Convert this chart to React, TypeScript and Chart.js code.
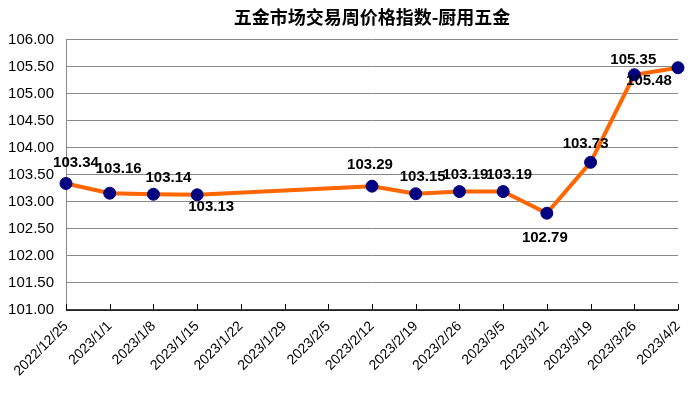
import React, { useEffect, useRef } from "react";
import { Chart, registerables } from "chart.js";

Chart.register(...registerables);

const TITLE = "五金市场交易周价格指数-厨用五金";
const categories = [
  "2022/12/25", "2023/1/1", "2023/1/8", "2023/1/15", "2023/1/22", "2023/1/29", "2023/2/5",
  "2023/2/12", "2023/2/19", "2023/2/26", "2023/3/5", "2023/3/12", "2023/3/19", "2023/3/26", "2023/4/2",
];
const values: (number | null)[] = [
  103.34, 103.16, 103.14, 103.13, null, null, null,
  103.29, 103.15, 103.19, 103.19, 102.79, 103.73, 105.35, 105.48,
];
const yTicks = [101, 101.5, 102, 102.5, 103, 103.5, 104, 104.5, 105, 105.5, 106];

// label offsets (style only)
const labelDx = [10, 9, 15, 14, 0, 0, 0, -2, 7, 6, 6, -2, -5, -1, -29];
const labelDy = [-21, -24, -16, 12, 0, 0, 0, -21, -17, -17, -17, 25, -19, -15, 13];

const FONT = "'Liberation Sans', Arial, sans-serif";

const labelPlugin = {
  id: "pointLabels",
  afterDatasetsDraw(chart: any) {
    const ctx = chart.ctx;
    const meta = chart.getDatasetMeta(0);
    ctx.save();
    ctx.font = `bold 15px ${FONT}`;
    ctx.fillStyle = "#000";
    ctx.textAlign = "center";
    ctx.textBaseline = "middle";
    meta.data.forEach((el: any, i: number) => {
      const v = values[i];
      if (v == null) return;
      ctx.fillText(v.toFixed(2), el.x + labelDx[i], el.y + labelDy[i]);
    });
    ctx.restore();
  },
};

const tickMarkPlugin = {
  id: "innerTicks",
  afterDraw(chart: any) {
    const ctx = chart.ctx;
    const xs = chart.scales.x;
    const bottom = chart.chartArea.bottom;
    ctx.save();
    ctx.strokeStyle = "#000";
    ctx.lineWidth = 1;
    xs.ticks.forEach((_t: any, i: number) => {
      const x = Math.round(xs.getPixelForTick(i)) + 0.5;
      ctx.beginPath();
      ctx.moveTo(x, bottom);
      ctx.lineTo(x, bottom - 6);
      ctx.stroke();
    });
    ctx.beginPath();
    ctx.lineWidth = 1.5;
    ctx.moveTo(chart.chartArea.left, bottom);
    ctx.lineTo(chart.chartArea.right, bottom);
    ctx.stroke();
    ctx.restore();
  },
};

export default function App() {
  const ref = useRef<HTMLCanvasElement>(null);
  useEffect(() => {
    if (!ref.current) return;
    const chart = new Chart(ref.current, {
      type: "line",
      data: {
        labels: categories,
        datasets: [
          {
            data: values,
            borderColor: "#FF6600",
            borderWidth: 4,
            pointBackgroundColor: "#000080",
            pointBorderColor: "#000080",
            pointRadius: 6,
            pointBorderWidth: 1,
            spanGaps: true,
            tension: 0,
          },
        ],
      },
      options: {
        animation: false,
        responsive: false,
        layout: { padding: { left: 0, right: 12, top: 0, bottom: 0 } },
        plugins: {
          legend: { display: false },
          tooltip: { enabled: false },
          title: {
            display: true,
            text: TITLE,
            fullSize: false,
            color: "#000",
            font: { size: 18, weight: "bold", family: "'Noto Sans CJK SC', sans-serif" },
            padding: { top: 6, bottom: 12 },
          },
        },
        scales: {
          x: {
            offset: false,
            grid: { display: false, drawTicks: false },
            border: { display: false },
            ticks: {
              color: "#000",
              font: { size: 14, family: FONT },
              minRotation: 45,
              maxRotation: 45,
              autoSkip: false,
              padding: 8,
            },
            afterFit: (s: any) => {
              s.height = 85;
              s.paddingRight = 0;
              s.paddingLeft = 0;
            },
          },
          y: {
            min: 101,
            max: 106,
            afterBuildTicks: (s: any) => {
              s.ticks = yTicks.map((v) => ({ value: v }));
            },
            grid: { color: "#888", lineWidth: 1, drawTicks: false },
            border: { color: "#888" },
            ticks: {
              color: "#000",
              font: { size: 15, family: FONT },
              padding: 12,
              callback: (v: any) => Number(v).toFixed(2),
            },
            afterFit: (s: any) => {
              s.width = 66;
            },
          },
        },
      },
      plugins: [labelPlugin, tickMarkPlugin],
    });
    return () => chart.destroy();
  }, []);
  return (
    <div style={{ position: "fixed", left: 0, top: 0, width: 690, height: 395, background: "#fff" }}>
      <canvas ref={ref} width={690} height={395} />
    </div>
  );
}
